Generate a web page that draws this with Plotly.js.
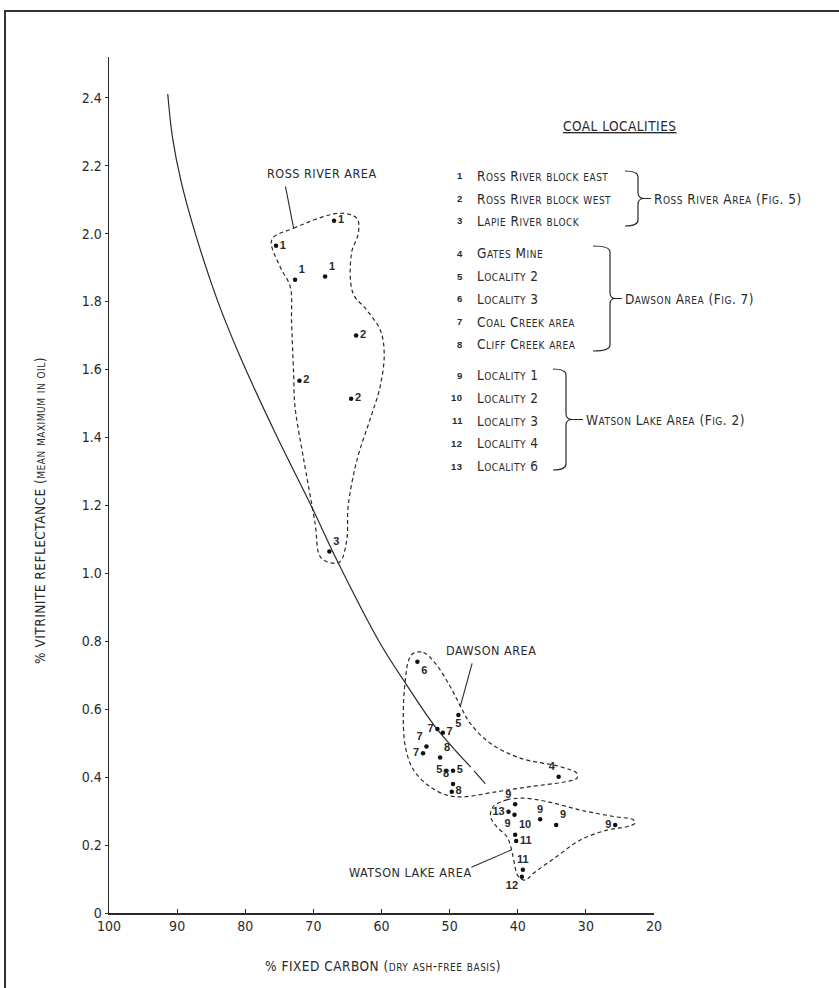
<!DOCTYPE html>
<html><head><meta charset="utf-8">
<script src="https://cdn.plot.ly/plotly-3.0.1.min.js"></script>
<style>body{margin:0;background:#fff} .annotation-text{letter-spacing:0.5px;}</style>
</head><body><div id="chart" style="width:839px;height:988px"></div>
<script>
// ---- data ----
const curveX = [91.38, 90.69, 89.47, 87.49, 84.11, 80.76, 75.6, 70.04, 66.56, 60.21, 56.29, 52.13, 47.2];
const curveY = [2.411, 2.285, 2.158, 2.011, 1.805, 1.638, 1.413, 1.187, 1.039, 0.794, 0.671, 0.549, 0.436];
const curveDashX = [47.2, 44.6];
const curveDashY = [0.436, 0.377];

const rossX = [66.96, 75.48, 72.69, 68.28, 63.73, 72.05, 64.46, 67.65];
const rossY = [2.038, 1.964, 1.864, 1.874, 1.700, 1.567, 1.514, 1.064];
const rossLabels = ['1','1','1','1','2','2','2','3'];

const dawsonX = [54.73, 48.71, 51.79, 51.0, 53.4, 53.9, 51.4, 50.5, 49.5, 49.5, 49.68, 34.0];
const dawsonY = [0.740, 0.583, 0.542, 0.531, 0.490, 0.470, 0.458, 0.419, 0.419, 0.380, 0.357, 0.401];
const dawsonLabels = ['6','5','7','7','7','7','8','5','5','8','8','4'];

const watsonX = [40.38, 41.36, 40.48, 36.71, 34.36, 25.7, 40.38, 40.23, 39.25, 39.4];
const watsonY = [0.320, 0.298, 0.289, 0.276, 0.259, 0.259, 0.230, 0.212, 0.127, 0.107];
const watsonLabels = ['9','13','9','9','9','9','10','11','11','12'];

const rossOutlineX = [76.1, 72.9, 66.1, 63.6, 63.4, 64.4, 64.2, 62.2, 60.2, 59.6, 60.2, 61.7, 63.6, 64.9, 65.1, 66.1, 67.5, 69.0, 69.75, 71.5, 72.7, 72.9, 73.2, 73.4, 74.9, 76.1];
const rossOutlineY = [1.982, 2.016, 2.060, 2.045, 2.001, 1.943, 1.825, 1.776, 1.717, 1.648, 1.550, 1.452, 1.334, 1.196, 1.098, 1.034, 1.031, 1.049, 1.148, 1.344, 1.491, 1.589, 1.737, 1.844, 1.903, 1.982];

const dawsonOutlineX = [55.3, 53.85, 52.1, 49.9, 48.5, 47.0, 44.05, 39.65, 33.8, 31.3, 31.3, 32.8, 38.2, 43.1, 48.0, 50.4, 52.9, 55.3, 56.5, 56.8, 56.5, 56.0, 55.3];
const dawsonOutlineY = [0.765, 0.767, 0.735, 0.666, 0.612, 0.559, 0.500, 0.456, 0.431, 0.411, 0.397, 0.387, 0.372, 0.357, 0.342, 0.347, 0.372, 0.421, 0.490, 0.588, 0.686, 0.745, 0.765];

const watsonOutlineX = [43.6, 41.6, 39.2, 35.7, 30.8, 25.9, 23.0, 22.8, 24.0, 26.9, 30.8, 34.3, 37.7, 38.9, 39.9, 40.6, 40.9, 41.6, 43.1, 44.0, 43.6];
const watsonOutlineY = [0.313, 0.333, 0.338, 0.328, 0.303, 0.284, 0.274, 0.264, 0.254, 0.244, 0.215, 0.166, 0.117, 0.097, 0.107, 0.156, 0.186, 0.225, 0.254, 0.284, 0.313];

const areaNames = ['ROSS RIVER AREA', 'DAWSON AREA', 'WATSON LAKE AREA'];
const areaLabelX = [68.8, 43.9, 55.8];
const areaLabelY = [2.178, 0.774, 0.118];
const leaderX = [[74.1, 72.9], [46.7, 48.45], [46.8, 40.9]];
const leaderY = [[2.139, 2.016], [0.735, 0.607], [0.135, 0.186]];

const xTicks = [100, 90, 80, 70, 60, 50, 40, 30, 20];
const yTicks = [0, 0.2, 0.4, 0.6, 0.8, 1.0, 1.2, 1.4, 1.6, 1.8, 2.0, 2.2, 2.4];
const yTickText = ['0', '0.2', '0.4', '0.6', '0.8', '1.0', '1.2', '1.4', '1.6', '1.8', '2.0', '2.2', '2.4'];

const legendTitle = 'COAL LOCALITIES';
const localityNums = ['1','2','3','4','5','6','7','8','9','10','11','12','13'];
const localityNames = ['Ross River block east', 'Ross River block west', 'Lapie River block',
  'Gates Mine', 'Locality 2', 'Locality 3', 'Coal Creek area', 'Cliff Creek area',
  'Locality 1', 'Locality 2', 'Locality 3', 'Locality 4', 'Locality 6'];
const groupNames = ['Ross River Area (Fig. 5)', 'Dawson Area (Fig. 7)', 'Watson Lake Area (Fig. 2)'];

const xTitleMain = '% FIXED CARBON ';
const xTitleSub = '(dry ash-free basis)';
const yTitleMain = '% VITRINITE REFLECTANCE ';
const yTitleSub = '(mean maximum in oil)';

// ---- layout helpers (pixel -> paper) ----
const L = 109, R = 654, T = 57, B = 913;
const px = x => (x - L) / (R - L);
const py = y => (B - y) / (B - T);
const FONT = '"DejaVu Sans Condensed", "Liberation Sans Narrow", "Open Sans", sans-serif';
const INK = '#2a2a2a';
const BIG = 13.5, SMALL = 10;

function smallCaps(s, small) {
  let out = '', run = '';
  for (const ch of s) {
    if (ch >= 'a' && ch <= 'z') { run += ch.toUpperCase(); }
    else {
      if (run) { out += `<span style="font-size:${small}px">${run}</span>`; run = ''; }
      out += ch;
    }
  }
  if (run) out += `<span style="font-size:${small}px">${run}</span>`;
  return out;
}

const ptFont = {family: 'Liberation Sans, Arial, sans-serif', size: 11, color: INK, weight: 'bold'};
const rossPos = ['middle right','middle right','top right','top right','middle right','middle right','middle right','top right'];
const dawsonPos = ['bottom right','bottom center','middle left','middle right','top left','middle left','top right','middle left','middle right','top left','middle right','top left'];
const watsonPos = ['top left','middle left','bottom left','top center','top right','middle left','top right','middle right','top center','bottom left'];

const traces = [];
function outline(x, y) {
  traces.push({x, y, type:'scatter', mode:'lines', hoverinfo:'skip', showlegend:false,
    line:{color:INK, width:1.2, dash:'4px,3px', shape:'spline', smoothing:1}});
}
outline(rossOutlineX, rossOutlineY);
outline(dawsonOutlineX, dawsonOutlineY);
outline(watsonOutlineX, watsonOutlineY);

traces.push({x: curveX, y: curveY, type:'scatter', mode:'lines', hoverinfo:'skip', showlegend:false,
  line:{color:INK, width:1.2, shape:'spline', smoothing:1}});
traces.push({x: curveDashX, y: curveDashY, type:'scatter', mode:'lines', hoverinfo:'skip', showlegend:false,
  line:{color:INK, width:1.2, dash:'3px,5px,14px,0px'}});

for (let i = 0; i < leaderX.length; i++) {
  traces.push({x: leaderX[i], y: leaderY[i], type:'scatter', mode:'lines', hoverinfo:'skip', showlegend:false,
    line:{color:INK, width:1.1}});
}

function pts(x, y, labels, pos) {
  traces.push({x, y, text: labels, textposition: pos, type:'scatter', mode:'markers+text',
    hoverinfo:'skip', showlegend:false, cliponaxis:false,
    marker:{color:'#111', size:4.5}, textfont: ptFont});
}
pts(rossX, rossY, rossLabels, rossPos);
pts(dawsonX, dawsonY, dawsonLabels, dawsonPos);
pts(watsonX, watsonY, watsonLabels, watsonPos);

const annotations = [];
function ann(o) { annotations.push(Object.assign({xref:'paper', yref:'paper', showarrow:false, xanchor:'center', yanchor:'middle'}, o)); }
for (let i = 0; i < areaNames.length; i++) {
  ann({x: areaLabelX[i], y: areaLabelY[i], xref:'x', yref:'y', text: areaNames[i],
    font:{family:FONT, size:12.5, color:INK}});
}
// axis titles
ann({x: px(383), y: py(966), text: xTitleMain + smallCaps(xTitleSub, SMALL), font:{family:FONT, size:BIG, color:INK}});
ann({x: px(40), y: py(511), textangle:-90, text: yTitleMain + smallCaps(yTitleSub, SMALL), font:{family:FONT, size:BIG, color:INK}});
// legend block
ann({x: px(620), y: py(126), text: '<u>' + legendTitle + '</u>', font:{family:FONT, size:BIG, color:INK}});
const rowY = [176, 198.7, 221, 253.3, 276, 299, 321.7, 344.3, 375.3, 397.7, 420.7, 443.3, 466];
for (let i = 0; i < localityNums.length; i++) {
  ann({x: px(465), y: py(rowY[i]), xanchor:'right', text: localityNums[i],
    font:{family:'Liberation Sans, Arial, sans-serif', size:9.5, color:INK, weight:'bold'}});
  ann({x: px(475), y: py(rowY[i]), xanchor:'left', text: smallCaps(localityNames[i], SMALL),
    font:{family:FONT, size:BIG, color:INK}});
}
const braces = [
  {x0:625, xm:638, xt:644, xl:652, y0:171, y1:226},
  {x0:593, xm:610, xt:615, xl:623, y0:246, y1:351},
  {x0:553, xm:566, xt:572, xl:584, y0:369, y1:470}
];
const shapes = [];
braces.forEach((b, i) => {
  const ym = (b.y0 + b.y1) / 2, r = 6;
  const P = (x, y) => `${px(x)},${py(y)}`;
  const path = `M ${P(b.x0, b.y0)} Q ${P(b.xm, b.y0)} ${P(b.xm, b.y0 + r)} L ${P(b.xm, ym - r)} ` +
    `Q ${P(b.xm, ym)} ${P(b.xt, ym)} Q ${P(b.xm, ym)} ${P(b.xm, ym + r)} L ${P(b.xm, b.y1 - r)} ` +
    `Q ${P(b.xm, b.y1)} ${P(b.x0, b.y1)} M ${P(b.xt, ym)} L ${P(b.xl - 1, ym)}`;
  shapes.push({type:'path', xref:'paper', yref:'paper', path, line:{color:INK, width:1.2}});
  ann({x: px(b.xl), y: py(ym), xanchor:'left', text: smallCaps(groupNames[i], SMALL),
    font:{family:FONT, size:BIG, color:INK}});
});
// outer frame
shapes.push({type:'rect', xref:'paper', yref:'paper', x0: px(5), x1: px(845), y0: py(995), y1: py(11),
  line:{color:'#333', width:2}});

const layout = {
  width: 839, height: 988,
  margin: {l: L, r: 839 - R, t: T, b: 988 - B},
  paper_bgcolor: '#fff', plot_bgcolor: '#fff',
  showlegend: false,
  font: {family: FONT, color: INK, size: 13},
  xaxis: {range: [100, 20], tickvals: xTicks, ticks: 'inside', ticklen: 4, tickcolor: INK,
    showline: true, linecolor: INK, linewidth: 1.5, showgrid: false, zeroline: false,
    tickfont: {family: FONT, size: 14, color: INK}, fixedrange: true},
  yaxis: {range: [0, 2.52], tickvals: yTicks, ticktext: yTickText, ticks: 'outside', ticklen: 3, tickcolor: INK,
    showline: true, linecolor: INK, linewidth: 1.5, showgrid: false, zeroline: false,
    tickfont: {family: FONT, size: 14, color: INK}, fixedrange: true},
  annotations, shapes
};
Plotly.newPlot('chart', traces, layout, {staticPlot: true, displayModeBar: false});
</script>
</body></html>
